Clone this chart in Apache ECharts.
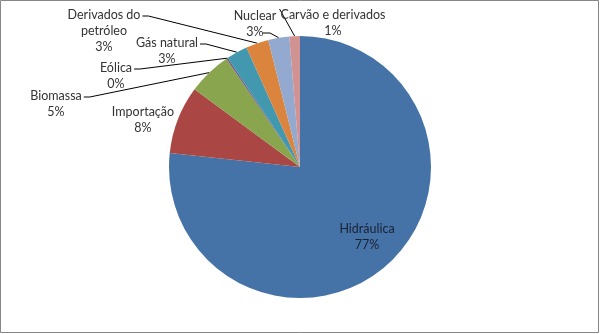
<!DOCTYPE html>
<html>
<head>
<meta charset="utf-8">
<script src="https://cdn.jsdelivr.net/npm/echarts@6/dist/echarts.min.js"></script>
<style>
html, body { margin: 0; padding: 0; background: #fff; }
#main { width: 600px; height: 334px; }
</style>
</head>
<body>
<div id="main"></div>
<script>
// fontes de energia (% da oferta)
var categorias = ['Hidráulica', 'Importação', 'Biomassa', 'Eólica', 'Gás natural', 'Derivados do\npetróleo', 'Nuclear', 'Carvão e derivados'];
var valores = [76.7, 8.4, 5.4, 0.2, 2.6, 2.8, 2.6, 1.3];
var cores = ['#4572A7', '#AA4643', '#89A54E', '#71588F', '#4198AF', '#DB843D', '#93A9CF', '#D19392'];

// onde fica cada rótulo (centro do bloco de texto) e de onde sai a linha
var posRotulo = [[367, 237], [143, 120], [56, 104], [116, 76], [167, 51], [104, 31], [255, 24], [333, 23]];
var ladoLinha = ['', '', 'r1', 'r1', 'r1', 'r1', 'r2', 'l1'];

var LH = 16;

var chart = echarts.init(document.getElementById('main'));
chart.setOption({
    animation: false,
    graphic: [{
        type: 'rect',
        shape: { x: 0.5, y: 0.5, width: 598, height: 332 },
        style: { fill: 'none', stroke: '#868686', lineWidth: 1 },
        silent: true
    }],
    series: [{
        type: 'pie',
        center: [300, 167],
        radius: 131,
        startAngle: 90,
        clockwise: true,
        avoidLabelOverlap: false,
        itemStyle: { borderWidth: 0 },
        label: {
            show: true,
            fontFamily: 'Lato',
            fontSize: 12.5,
            color: '#333',
            lineHeight: LH,
            align: 'center',
            formatter: function (p) {
                return p.name + '\n' + Math.round(p.percent) + '%';
            }
        },
        labelLine: {
            show: true,
            lineStyle: { color: '#000', width: 1 }
        },
        labelLayout: function (p) {
            var i = p.dataIndex;
            var x = posRotulo[i][0], y = posRotulo[i][1];
            var w = p.labelRect.width, h = p.labelRect.height;
            var out = { x: x, y: y, align: 'center', verticalAlign: 'middle' };
            var lado = ladoLinha[i];
            var alvo = p.labelLinePoints ? p.labelLinePoints[0] : null;
            if (!lado || !alvo) {
                out.labelLinePoints = [[x, y], [x, y], [x, y]];
                return out;
            }
            var topo = y - h / 2;
            var a, b;
            if (lado === 'r1') {
                a = [x + w / 2 + 2, topo + LH / 2 + 1];
                b = [a[0] + 6, a[1]];
            } else if (lado === 'r2') {
                a = [x + 8, topo + LH * 1.5 + 1];
                b = [a[0] + 7, a[1]];
            } else {
                a = [x - w / 2 - 1, topo + 2];
                b = a.slice();
            }
            out.labelLinePoints = [alvo, b, a];
            return out;
        },
        data: categorias.map(function (c, i) {
            return {
                name: c,
                value: valores[i],
                itemStyle: { color: cores[i] },
                label: i === 0 ? { color: '#1a2233' } : undefined
            };
        })
    }]
});
</script>
</body>
</html>
